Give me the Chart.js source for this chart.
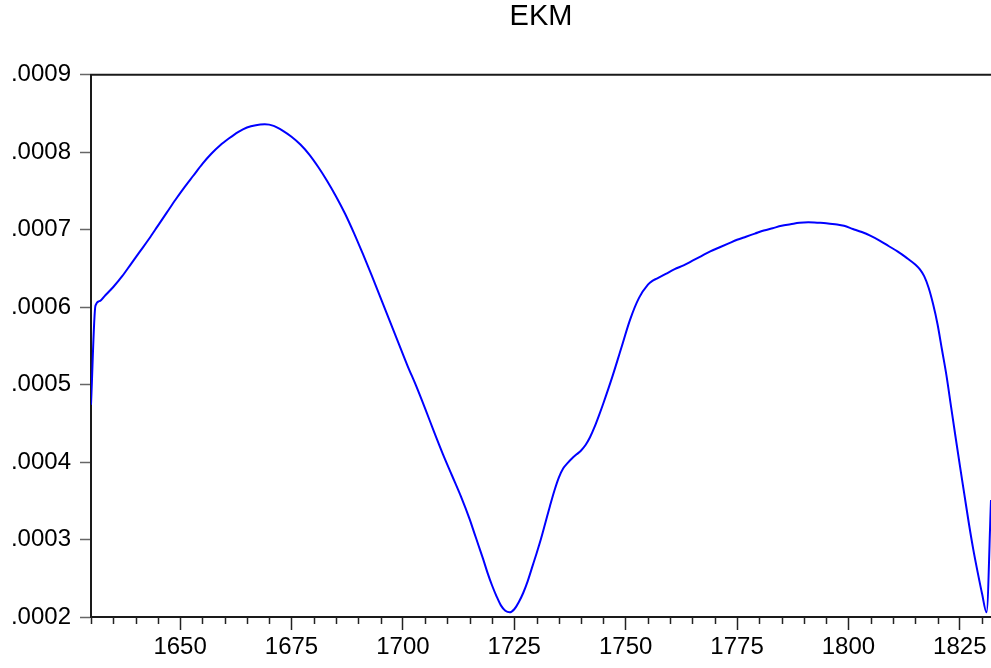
<!DOCTYPE html>
<html>
<head>
<meta charset="utf-8">
<title>EKM</title>
<script src="https://cdn.jsdelivr.net/npm/chart.js@4"></script>
<style>
    html, body { margin: 0; padding: 0; background: #fff; }
    #wrap { width: 991px; height: 668px; }
</style>
</head>
<body>
<div id="wrap"><canvas id="ekmChart" width="991" height="668"></canvas></div>
<script>
// years and EKM values (in units of 1e-4)
const years = [
    1630, 1631, 1632, 1633, 1635, 1637, 1639, 1641, 1643, 1645,
    1647, 1649, 1651, 1653, 1655, 1657, 1659, 1661, 1663, 1665,
    1667, 1669, 1671, 1673, 1675, 1677, 1679, 1681, 1683, 1685,
    1687, 1689, 1691, 1693, 1695, 1697, 1699, 1701, 1703, 1705,
    1707, 1709, 1711, 1713, 1715, 1716, 1717, 1718, 1719, 1720,
    1721, 1722, 1723, 1724, 1725, 1726, 1727, 1728, 1729, 1730,
    1731, 1732, 1733, 1734, 1735, 1736, 1737, 1738, 1739, 1740,
    1741, 1742, 1743, 1744, 1745, 1747, 1749, 1751, 1753, 1755,
    1756, 1757, 1759, 1761, 1763, 1765, 1767, 1769, 1771, 1773,
    1775, 1777, 1779, 1781, 1783, 1785, 1787, 1789, 1791, 1793,
    1795, 1797, 1799, 1801, 1803, 1805, 1807, 1809, 1811, 1813,
    1815, 1816, 1817, 1818, 1819, 1820, 1821, 1822, 1823, 1824,
    1825, 1826, 1827, 1828, 1829, 1830, 1831, 1832
];
const ekmValues = [
    4.74, 6.02, 6.08, 6.14, 6.26, 6.40, 6.56, 6.72, 6.88, 7.05,
    7.22, 7.39, 7.55, 7.70, 7.85, 7.98, 8.09, 8.18, 8.26, 8.32,
    8.35, 8.36, 8.34, 8.28, 8.20, 8.10, 7.97, 7.81, 7.63, 7.43,
    7.21, 6.96, 6.69, 6.41, 6.12, 5.83, 5.54, 5.25, 4.98, 4.69,
    4.39, 4.10, 3.83, 3.56, 3.26, 3.09, 2.92, 2.75, 2.57, 2.41,
    2.27, 2.15, 2.08, 2.06, 2.10, 2.19, 2.31, 2.46, 2.64, 2.82,
    3.01, 3.22, 3.43, 3.63, 3.80, 3.92, 3.99, 4.05, 4.10, 4.15,
    4.22, 4.32, 4.45, 4.60, 4.76, 5.10, 5.47, 5.84, 6.12, 6.29,
    6.34, 6.37, 6.43, 6.49, 6.54, 6.60, 6.66, 6.72, 6.77, 6.82,
    6.87, 6.91, 6.95, 6.99, 7.02, 7.05, 7.07, 7.09, 7.095, 7.09,
    7.085, 7.07, 7.05, 7.01, 6.97, 6.92, 6.86, 6.79, 6.72, 6.64,
    6.55, 6.49, 6.40, 6.25, 6.04, 5.78, 5.45, 5.12, 4.73, 4.34,
    3.96, 3.59, 3.22, 2.88, 2.58, 2.30, 2.06, 3.51
];
const yTicks = [0.0002, 0.0003, 0.0004, 0.0005, 0.0006, 0.0007, 0.0008, 0.0009];
const xMajorStep = 25;
const xMinorStep = 5;

const FONT = '"Liberation Sans", Arial, sans-serif';

// top frame line + short minor ticks on the year axis
const framePlugin = {
    id: 'framePlugin',
    afterDraw(chart) {
        const ctx = chart.ctx;
        const area = chart.chartArea;
        const xScale = chart.scales.x;
        ctx.save();
        ctx.strokeStyle = '#1a1a1a';
        ctx.lineWidth = 2;
        ctx.beginPath();
        ctx.moveTo(area.left - 1, area.top);
        ctx.lineTo(area.right, area.top);
        ctx.stroke();

        ctx.lineWidth = 1.5;
        ctx.strokeStyle = '#222';
        xScale.ticks.forEach(function(t) {
            if (t.value % xMajorStep === 0) return;
            const px = Math.round(xScale.getPixelForValue(t.value)) + 0.5;
            ctx.beginPath();
            ctx.moveTo(px, area.bottom);
            ctx.lineTo(px, area.bottom + 7);
            ctx.stroke();
        });
        ctx.restore();
    }
};

const ctx = document.getElementById('ekmChart').getContext('2d');
const ekmChart = new Chart(ctx, {
    type: 'line',
    data: {
        datasets: [{
            label: 'EKM',
            data: years.map((yr, i) => ({ x: yr, y: ekmValues[i] / 10000 })),
            borderColor: '#0000ff',
            borderWidth: 2,
            pointRadius: 0,
            fill: false,
            cubicInterpolationMode: 'monotone'
        }]
    },
    options: {
        responsive: false,
        animation: false,
        layout: { padding: 0 },
        plugins: {
            legend: { display: false },
            tooltip: { enabled: false },
            title: {
                display: true,
                text: 'EKM',
                fullSize: false,
                color: '#000',
                font: { family: FONT, size: 29, weight: 'normal' },
                padding: { top: 0, bottom: 40 }
            }
        },
        scales: {
            x: {
                type: 'linear',
                min: 1630,
                max: 1832,
                afterBuildTicks: function(scale) {
                    const t = [];
                    for (let v = 1630; v <= 1830; v += xMinorStep) t.push({ value: v });
                    scale.ticks = t;
                },
                afterFit: function(scale) { scale.height = 51; },
                border: { display: true, color: '#1a1a1a', width: 2 },
                grid: {
                    display: true,
                    drawOnChartArea: false,
                    drawTicks: true,
                    tickLength: 13,
                    tickWidth: 1.5,
                    tickColor: function(c) {
                        return c.tick && c.tick.value % xMajorStep === 0 ? '#222' : 'rgba(0,0,0,0)';
                    }
                },
                ticks: {
                    autoSkip: false,
                    maxRotation: 0,
                    padding: 3,
                    color: '#000',
                    font: { family: FONT, size: 24 },
                    callback: function(value) {
                        return value % xMajorStep === 0 ? String(value) : '';
                    }
                }
            },
            y: {
                min: yTicks[0],
                max: yTicks[yTicks.length - 1],
                afterBuildTicks: function(scale) {
                    scale.ticks = yTicks.map(v => ({ value: v }));
                },
                afterFit: function(scale) { scale.width = 91; },
                border: { display: true, color: '#1a1a1a', width: 2 },
                grid: {
                    display: true,
                    drawOnChartArea: false,
                    drawTicks: true,
                    tickLength: 11,
                    tickWidth: 1.5,
                    tickColor: '#666'
                },
                ticks: {
                    padding: 9,
                    color: '#000',
                    font: { family: FONT, size: 24 },
                    callback: function(value) {
                        return value.toFixed(4).replace(/^0/, '');
                    }
                }
            }
        }
    },
    plugins: [framePlugin]
});
</script>
</body>
</html>
